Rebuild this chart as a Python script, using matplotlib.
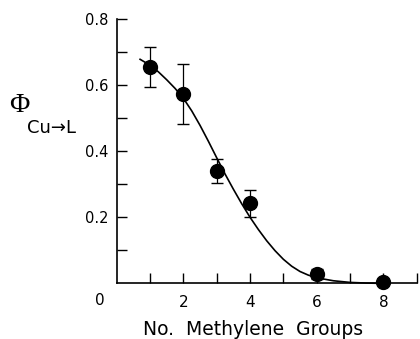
import numpy as np
import matplotlib
matplotlib.use('Agg')
import matplotlib.pyplot as plt

plt.rcParams['font.family'] = ['DejaVu Sans']

# measured points
n_ch2 = [1, 2, 3, 4, 6, 8]
phi = [0.655, 0.573, 0.340, 0.242, 0.028, 0.004]
phi_err = [0.060, 0.090, 0.035, 0.041, 0.015, 0.0]

# fitted curve
curve_x = [0.70, 1.00, 1.25, 1.50, 1.75, 2.00, 2.25, 2.50, 2.75, 3.00, 3.25, 3.50,
           3.75, 4.00, 4.25, 4.50, 4.75, 5.00, 5.25, 5.50, 5.75, 6.00, 6.50, 7.00,
           7.50, 8.00, 8.20]
curve_y = [0.678, 0.660, 0.640, 0.616, 0.590, 0.560, 0.522, 0.478, 0.430, 0.380,
           0.331, 0.285, 0.241, 0.200, 0.163, 0.129, 0.099, 0.073, 0.052, 0.036,
           0.025, 0.017, 0.008, 0.003, 0.001, 0.000, 0.000]

x_ticklabels = ['2', '4', '6', '8']

fig = plt.figure(figsize=(4.2, 3.39), dpi=100)
ax = fig.add_axes([0.278, 0.164, 0.714, 0.780])

ax.plot(curve_x, curve_y, color='black', lw=1.2, clip_on=False)
ax.errorbar(n_ch2, phi, yerr=phi_err, fmt='o', color='black', ms=10,
            elinewidth=0.9, capsize=4, capthick=1.0, clip_on=False)

ax.set_xlim(0, 9)
ax.set_ylim(0, 0.8)
ax.set_xticks(range(1, 10))
ax.set_xticklabels(['' if str(t) not in x_ticklabels else str(t) for t in range(1, 10)])
ax.set_yticks(np.arange(1, 9) / 10)
ax.set_yticklabels(['', '0.2', '', '0.4', '', '0.6', '', '0.8'])
ax.tick_params(axis='both', direction='in', length=7, width=1.0, color='black')
ax.tick_params(axis='x', labelsize=11, pad=8)
ax.tick_params(axis='y', labelsize=10.5, pad=6)
ax.text(-0.5, -0.028, '0', fontsize=11, ha='center', va='top')

for s in ['top', 'right']:
    ax.spines[s].set_visible(False)
for s in ['left', 'bottom']:
    ax.spines[s].set_linewidth(1.2)

ax.set_xlabel('No.  Methylene  Groups', fontsize=13.5)
ax.xaxis.set_label_coords(0.456, -0.137, transform=ax.transAxes)
ax.xaxis.label.set_va('top')

fig.text(19 / 420, 1 - 105 / 339, '\u03a6', fontsize=20, ha='center', va='center',
         family='Liberation Serif')
fig.text(27 / 420, 1 - 128 / 339, 'Cu\u2192L', fontsize=13, ha='left', va='center')

fig.savefig('out.png', dpi=100)
